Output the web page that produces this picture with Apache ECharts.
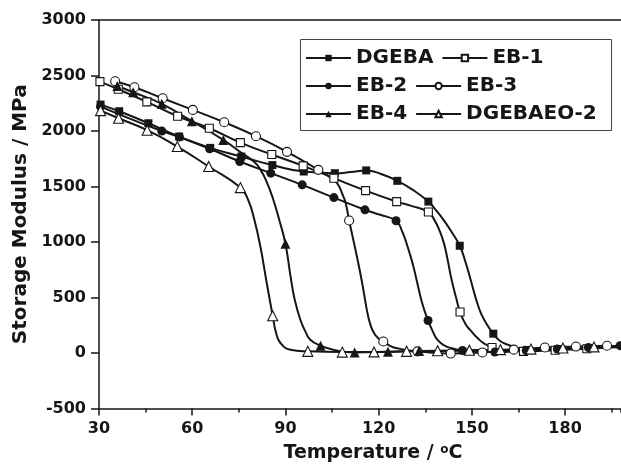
<!DOCTYPE html>
<html>
<head>
<meta charset="utf-8">
<script src="https://cdn.jsdelivr.net/npm/echarts@6/dist/echarts.min.js"></script>
<style>html,body{margin:0;padding:0;background:#fff}#c{width:621px;height:468px}</style>
</head>
<body>
<div id="c"></div>
<script>
var seriesNames = ['DGEBA', 'EB-1', 'EB-2', 'EB-3', 'EB-4', 'DGEBAEO-2'];
var xTicks = [30, 60, 90, 120, 150, 180];
var yTicks = [-500, 0, 500, 1000, 1500, 2000, 2500, 3000];

// Temperature (°C), storage modulus (MPa), marker shown (1) or not (0)
var dgebaT = [30.5,36.5,45.9,55.8,65.8,75.8,85.8,95.9,105.9,111,116,121,126,131,136,138.5,141,143.5,146.1,148,149.7,151.3,152.9,155,156.9,159,161.5,165.8,167.7,177.7,187.7,198];
var dgebaV = [2238,2178,2070,1950,1848,1770,1693,1635,1620,1630,1645,1610,1551,1470,1364,1285,1195,1090,966,815,650,490,360,250,174,110,75,35,28,35,45,62];
var dgebaM = [1,1,1,1,1,1,1,1,1,0,1,0,1,0,1,0,0,0,1,0,0,0,0,0,1,0,0,0,1,1,1,0];

var eb1T = [30.3,36.2,45.4,55.3,65.5,75.5,85.6,95.7,105.6,115.8,125.8,130.5,136,138,139.5,141,142.2,143.4,145,146.2,148,150,152,154,156.5,160,166.6,176.8,187,198];
var eb1V = [2445,2376,2262,2133,2025,1895,1788,1686,1575,1463,1364,1325,1270,1195,1110,990,840,670,490,369,260,190,130,85,50,25,15,25,38,55];
var eb1M = [1,1,1,1,1,1,1,1,1,1,1,0,1,0,0,0,0,0,0,1,0,0,0,0,1,0,1,1,1,0];

var eb2T = [30.5,40.5,50.2,55.9,65.6,75.3,85.3,95.4,105.6,115.6,120.5,125.6,127.5,129.3,131,132.2,134,135.9,137.5,138.9,141,143.2,147,157.4,167.5,177.5,187.5,197.7];
var eb2V = [2220,2105,2000,1945,1840,1725,1620,1515,1400,1290,1245,1191,1100,960,800,660,450,293,190,120,70,45,23,8,22,35,50,66];
var eb2M = [1,0,1,1,1,1,1,1,1,1,0,1,0,0,0,0,0,1,0,0,0,0,1,1,1,1,1,1];

var eb3T = [35.2,41.4,50.5,60.2,70.3,80.5,90.5,100.6,103.5,106.6,108.5,109.4,110.5,112,113.3,114.5,115.5,116.4,117.3,118.5,120,121.5,124,126,132.5,143.2,153.4,163.5,173.5,183.5,193.5];
var eb3V = [2448,2394,2295,2190,2079,1953,1812,1650,1600,1530,1420,1350,1194,1000,830,660,500,360,260,180,130,104,60,42,15,-5,5,30,50,58,65];
var eb3M = [1,1,1,1,1,1,1,1,0,0,0,0,1,0,0,0,0,0,0,0,0,1,0,0,1,1,1,1,1,1,1];

var eb4T = [35.9,41,50.2,59.9,70,75,80,82,84,86,88,90,91.6,93,94.8,96.5,98,101.3,106,112.3,123,133,143,153,163,173,183,198];
var eb4V = [2405,2349,2245,2088,1920,1820,1720,1650,1540,1390,1200,984,700,480,300,190,120,66,25,5,12,18,20,25,30,38,48,60];
var eb4M = [1,1,1,1,1,0,0,0,0,0,0,1,0,0,0,0,0,1,0,1,1,1,0,0,0,0,0,0];

var eoT = [30.5,36.3,45.5,55.2,65.3,75.5,78,80,82,83.8,85.9,87,88.4,91.6,97.2,108.3,118.5,129,139,149.2,159.2,169,179.3,189.3,198];
var eoV = [2184,2115,2007,1860,1680,1490,1380,1200,950,660,336,180,90,30,15,8,10,15,20,25,30,35,45,55,60];
var eoM = [1,1,1,1,1,1,0,0,0,0,1,0,0,0,1,1,1,1,1,1,1,1,1,1,0];

function build(T, V, M) {
  return T.map(function (t, i) {
    return M[i] ? [t, V[i]] : { value: [t, V[i]], symbol: 'none' };
  });
}

var FONT = 'DejaVu Sans';
var INK = '#161616';

function mkSeries(name, data, symbol, size, filled) {
  return {
    name: name, type: 'line', data: data,
    symbol: symbol, symbolSize: size, showSymbol: true, showAllSymbol: true,
    smooth: 0.5,
    lineStyle: { color: INK, width: 2 },
    itemStyle: { color: filled ? INK : '#fff', borderColor: INK, borderWidth: filled ? 0 : 1.1 },
    emphasis: { disabled: true },
    animation: false
  };
}

var chart = echarts.init(document.getElementById('c'), null, { renderer: 'canvas' });
chart.setOption({
  animation: false,
  backgroundColor: '#fff',
  grid: { left: 99, top: 20, right: 0, bottom: 59, containLabel: false },
  legend: {
    left: 305, top: 48, width: 300, orient: 'horizontal', padding: 0,
    itemWidth: 45, itemHeight: 8, itemGap: 8,
    textStyle: { fontFamily: FONT, fontWeight: 'bold', fontSize: 20, lineHeight: 20, color: INK },
    data: seriesNames
  },
  graphic: [{
    type: 'rect', shape: { x: 300.5, y: 39.5, width: 311, height: 91 },
    style: { fill: 'none', stroke: '#444', lineWidth: 1 }, z: 10
  }],
  xAxis: [{
    type: 'value', position: 'bottom', min: xTicks[0], max: 198, interval: 30,
    axisLine: { show: true, onZero: false, lineStyle: { color: INK, width: 1.5 } },
    axisTick: { show: true, inside: false, length: 7, lineStyle: { color: INK, width: 1.5 } },
    axisLabel: { show: true, margin: 12, showMaxLabel: false, fontFamily: FONT, fontWeight: 'bold', fontSize: 16, color: INK,
      formatter: function (v) { return xTicks.indexOf(v) >= 0 ? String(v) : ''; } },
    splitLine: { show: false },
    name: 'Temperature / {s|o}C', nameLocation: 'middle', nameGap: 35,
    nameTextStyle: { fontFamily: FONT, fontWeight: 'bold', fontSize: 19, color: INK, padding: [0, 0, 0, 26],
      rich: { s: { fontFamily: FONT, fontWeight: 'bold', fontSize: 12, verticalAlign: 'top', padding: [0, 0, 8, 0], color: INK } } }
  }, {
    type: 'value', position: 'bottom', min: xTicks[0], max: 198, interval: 15,
    axisLine: { show: false, onZero: false },
    axisTick: { show: true, inside: false, length: 4, lineStyle: { color: INK, width: 1.5 } },
    axisLabel: { show: false }, splitLine: { show: false }
  }, {
    type: 'value', position: 'top', min: xTicks[0], max: 198,
    axisLine: { show: true, onZero: false, lineStyle: { color: INK, width: 1.5 } },
    axisTick: { show: false }, axisLabel: { show: false }, splitLine: { show: false }
  }],
  yAxis: {
    type: 'value', min: yTicks[0], max: yTicks[yTicks.length - 1], interval: 500,
    axisLine: { show: true, onZero: false, lineStyle: { color: INK, width: 1.5 } },
    axisTick: { show: true, inside: false, length: 8, lineStyle: { color: INK, width: 1.5 } },
    axisLabel: { margin: 13, fontFamily: FONT, fontWeight: 'bold', fontSize: 16, color: INK,
      formatter: function (v) { return String(v); } },
    splitLine: { show: false },
    name: 'Storage Modulus / MPa', nameLocation: 'middle', nameGap: 68, nameRotate: 90,
    nameTextStyle: { fontFamily: FONT, fontWeight: 'bold', fontSize: 20, color: INK }
  },
  series: [
    mkSeries('DGEBA', build(dgebaT, dgebaV, dgebaM), 'rect', 8, true),
    mkSeries('EB-1', build(eb1T, eb1V, eb1M), 'rect', 8, false),
    mkSeries('EB-2', build(eb2T, eb2V, eb2M), 'circle', 9, true),
    mkSeries('EB-3', build(eb3T, eb3V, eb3M), 'circle', 9, false),
    mkSeries('EB-4', build(eb4T, eb4V, eb4M), 'triangle', 10, true),
    mkSeries('DGEBAEO-2', build(eoT, eoV, eoM), 'triangle', 10, false)
  ]
});
</script>
</body>
</html>
